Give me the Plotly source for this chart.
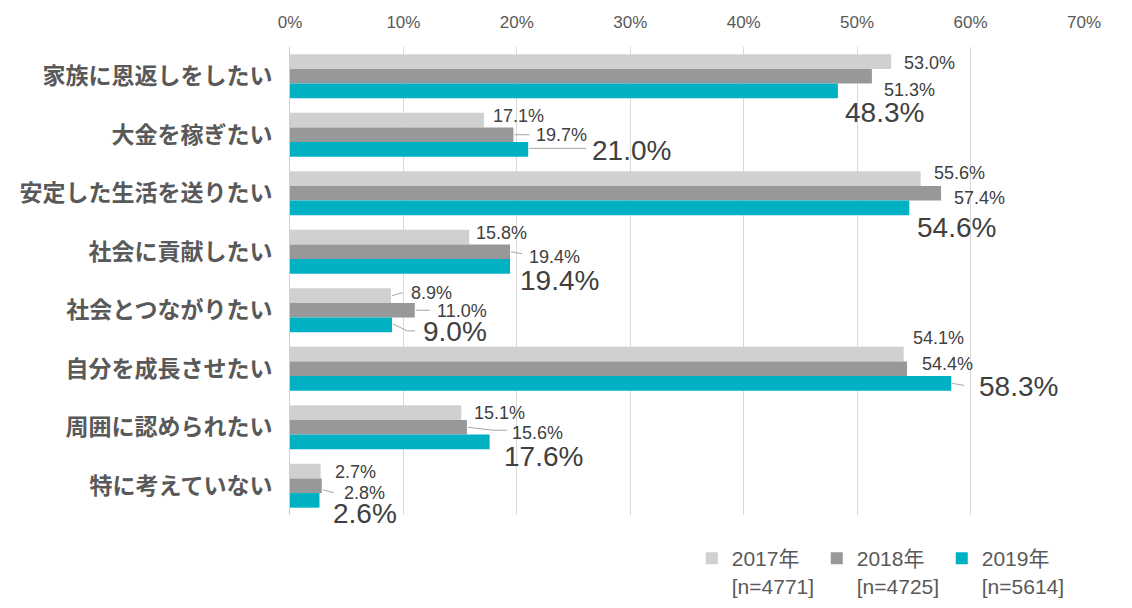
import plotly.graph_objects as go

categories = ["家族に恩返しをしたい", "大金を稼ぎたい", "安定した生活を送りたい", "社会に貢献したい",
              "社会とつながりたい", "自分を成長させたい", "周囲に認められたい", "特に考えていない"]
v2017 = [53.0, 17.1, 55.6, 15.8, 8.9, 54.1, 15.1, 2.7]
v2018 = [51.3, 19.7, 57.4, 19.4, 11.0, 54.4, 15.6, 2.8]
v2019 = [48.3, 21.0, 54.6, 19.4, 9.0, 58.3, 17.6, 2.6]
series_names = ["2017年<br>[n=4771]", "2018年<br>[n=4725]", "2019年<br>[n=5614]"]
series_values = [v2017, v2018, v2019]
colors = ["#D0D0CE", "#97989A", "#00B1C4"]
label_sizes = [18, 18, 28]
x_ticks = [0, 10, 20, 30, 40, 50, 60, 70]

# label placement offsets (pixels): left edge offset from bar end, vertical offset (down +)
label_offsets = [
    [(11, 1), (10, 13.5), (5, 21.5)],
    [(7, -4.5), (21, 0.7), (62, 1)],
    [(11, -6), (11, 5), (6, 19.5)],
    [(5, -4), (17, 5.4), (8, 14)],
    [(18, -2.3), (20, 1), (29, 6.5)],
    [(7, -16.6), (13, -4.3), (26, 3)],
    [(11, 0.7), (43, 6), (12, 14.5)],
    [(12, 1), (20, 7.4), (12, 13)],
]
# leader lines (pixel paths relative to bar end), None = no leader
leaders = [
    [None, None, None],
    [None, [(1, 0), (16, 0)], [(1, -1), (58, -1)]],
    [None, None, None],
    [None, [(1, 0), (12, 2)], None],
    [[(1, 0), (12, -3)], [(1, 0), (15, 0)], [(1, -1), (15, 6), (23, 6)]],
    [None, None, [(1, 0), (13, 2)]],
    [None, [(1, 0), (26, 3), (40, 3)], None],
    [None, [(1, 4), (12, 7)], None],
]

fig = go.Figure()
for name, vals, col in zip(series_names, series_values, colors):
    fig.add_trace(go.Bar(y=categories, x=vals, name=name, orientation="h",
                         marker=dict(color=col, line=dict(width=0))))

sub = [-0.25, 0.0, 0.25]
annotations = []
shapes = []
for k in range(len(categories)):
    for i, vals in enumerate(series_values):
        dx, dy = label_offsets[k][i]
        ycen = k + sub[i]
        annotations.append(dict(
            x=vals[k], y=ycen, xref="x", yref="y", text=f"{vals[k]:.1f}%",
            showarrow=False, xanchor="left", yanchor="middle",
            xshift=dx, yshift=-dy,
            font=dict(family="Liberation Sans, Arial, sans-serif", size=label_sizes[i], color="#404040")))
        ld = leaders[k][i]
        if ld:
            path = "M" + " L".join(f"{px},{-py}" for px, py in ld)
            shapes.append(dict(type="path", xref="x", yref="y", xsizemode="pixel", ysizemode="pixel",
                               xanchor=vals[k], yanchor=ycen, path=path,
                               line=dict(color="#A6A6A6", width=1)))

fig.update_layout(
    width=1132, height=608,
    margin=dict(l=290, r=48, t=47, b=93),
    plot_bgcolor="white", paper_bgcolor="white",
    barmode="group", bargap=0.25, bargroupgap=0,
    font=dict(family="Liberation Sans, Arial, Noto Sans CJK JP, sans-serif", color="#595959"),
    xaxis=dict(side="top", range=[0, 70], tickvals=x_ticks, ticktext=[f"{t}%" for t in x_ticks],
               showgrid=True, gridcolor="#D9D9D9", gridwidth=1, zeroline=False, showline=False,
               ticks="", tickfont=dict(size=17, color="#595959"), ticklabelstandoff=15),
    yaxis=dict(autorange="reversed", showgrid=False, showline=True, linecolor="#D0D0D0", linewidth=1,
               ticks="", ticklabelstandoff=12,
               tickfont=dict(family="Noto Sans CJK JP, sans-serif", size=23, color="#595959", weight="bold")),
    legend=dict(orientation="h", x=0.506, xanchor="left", xref="paper",
                y=0.115, yanchor="top", yref="container",
                font=dict(family="Liberation Sans, Arial, Noto Sans CJK JP, sans-serif", size=21, color="#595959"),
                valign="top", entrywidth=80, entrywidthmode="pixels", traceorder="normal",
                itemclick=False),
    annotations=annotations,
    shapes=shapes,
    showlegend=True,
)

fig.write_html("out.html", config={"displayModeBar": False},
               post_script="document.body.style.margin='0';")
